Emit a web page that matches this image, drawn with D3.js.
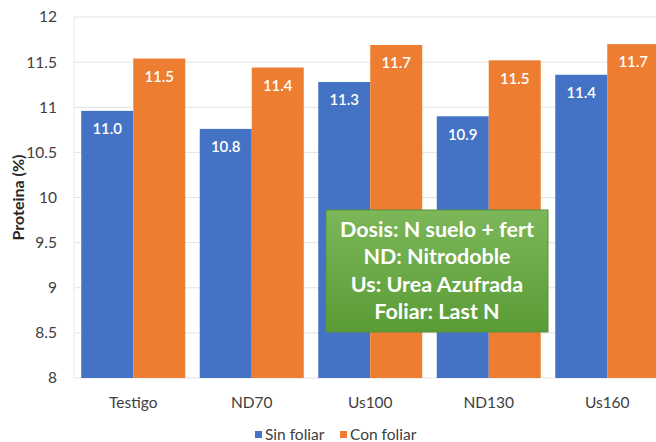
<!DOCTYPE html>
<html>
<head>
<meta charset="utf-8">
<script src="https://cdn.jsdelivr.net/npm/d3@7"></script>
<style>
  body { margin: 0; background: #fff; }
  svg { display: block; font-family: Lato, "Open Sans", sans-serif; }
</style>
</head>
<body>
<div id="chart"></div>
<script>
var categories = ["Testigo", "ND70", "Us100", "ND130", "Us160"];
var sinFoliar = [10.96, 10.76, 11.28, 10.90, 11.36];
var conFoliar = [11.54, 11.44, 11.69, 11.52, 11.70];
var seriesNames = ["Sin foliar", "Con foliar"];
var yTicks = [8, 8.5, 9, 9.5, 10, 10.5, 11, 11.5, 12];
var noteLines = ["Dosis: N suelo + fert", "ND: Nitrodoble", "Us: Urea Azufrada", "Foliar: Last N"];

var colors = ["#4472C4", "#ED7D31"];

var svg = d3.select("#chart").append("svg")
    .attr("width", 656).attr("height", 442),
    margin = {top: 17, left: 74},
    width = 592.5,
    height = 361,
    g = svg.append("g").attr("transform", "translate(" + margin.left + "," + margin.top + ")");

var x0 = d3.scaleBand().domain(categories).range([0, width]).paddingInner(0.1224).paddingOuter(0.0612);
var x1 = d3.scaleBand().domain([0, 1]).range([0, x0.bandwidth()]);
var y = d3.scaleLinear().domain([8, 12]).range([height, 0]);

// gridlines
g.selectAll(".grid").data(yTicks).enter().append("line")
    .attr("x1", 0).attr("x2", width)
    .attr("y1", function(d) { return y(d); }).attr("y2", function(d) { return y(d); })
    .style("stroke", "#e3e3e3").style("stroke-width", 1);

g.append("line").attr("x1", 0).attr("x2", 0).attr("y1", 0).attr("y2", height)
    .style("stroke", "#e8e8e8");

// y tick labels
var yAxis = g.append("g").call(d3.axisLeft(y).tickValues(yTicks).tickSize(0).tickPadding(17)
    .tickFormat(function(d) { return d3.format("")(d); }));
yAxis.select(".domain").remove();
yAxis.selectAll("text").style("font-size", "15.5px").style("fill", "#404040")
    .style("font-family", "Lato, sans-serif");

// bars
var groups = g.selectAll(".grp").data(categories).enter().append("g")
    .attr("transform", function(d) { return "translate(" + x0(d) + ",0)"; });

groups.selectAll("rect").data(function(d, i) { return [sinFoliar[i], conFoliar[i]]; })
  .enter().append("rect")
    .attr("x", function(d, j) { return x1(j); })
    .attr("y", function(d) { return y(d); })
    .attr("width", x1.bandwidth())
    .attr("height", function(d) { return height - y(d); })
    .style("fill", function(d, j) { return colors[j]; });

groups.selectAll(".val").data(function(d, i) { return [sinFoliar[i], conFoliar[i]]; })
  .enter().append("text")
    .attr("x", function(d, j) { return x1(j) + x1.bandwidth() / 2; })
    .attr("y", function(d) { return y(d) + 18; })
    .attr("dy", "0.35em")
    .attr("text-anchor", "middle")
    .style("fill", "#fff").style("font-size", "15px").style("font-weight", "600")
    .text(function(d) { return d.toFixed(1); });

// x labels
g.selectAll(".xl").data(categories).enter().append("text")
    .attr("x", function(d) { return x0(d) + x0.bandwidth() / 2; })
    .attr("y", height + 25)
    .attr("dy", "0.35em")
    .attr("text-anchor", "middle")
    .style("font-size", "15.5px").style("fill", "#404040")
    .text(function(d) { return d; });

// y title
svg.append("text")
    .attr("transform", "translate(18," + (margin.top + height / 2) + ") rotate(-90)")
    .attr("text-anchor", "middle")
    .attr("dy", "0.35em")
    .style("font-size", "16px").style("font-weight", "bold").style("fill", "#262626")
    .text("Proteina (%)");

// legend
var legend = svg.append("g");
var legX = [255, 340];
seriesNames.forEach(function(name, i) {
  legend.append("rect").attr("x", legX[i]).attr("y", 431).attr("width", 7).attr("height", 7)
      .style("fill", colors[i]);
  legend.append("text").attr("x", legX[i] + 10).attr("y", 435).attr("dy", "0.35em")
      .style("font-size", "15.5px").style("fill", "#404040").text(name);
});

// note box
var defs = svg.append("defs");
var grad = defs.append("linearGradient").attr("id", "gr").attr("x1", 0).attr("y1", 0).attr("x2", 0).attr("y2", 1);
grad.append("stop").attr("offset", "0%").attr("stop-color", "#7cb759");
grad.append("stop").attr("offset", "100%").attr("stop-color", "#5a9c36");

svg.append("rect").attr("x", 326).attr("y", 210).attr("width", 222).attr("height", 122)
    .style("fill", "url(#gr)").style("stroke", "#5b8f3c").style("stroke-width", 1);

svg.selectAll(".note").data(noteLines).enter().append("text")
    .attr("x", 437)
    .attr("y", function(d, i) { return 229 + i * 27.6; })
    .attr("dy", "0.35em")
    .attr("text-anchor", "middle")
    .style("fill", "#fff").style("font-size", "21.5px").style("font-weight", "bold")
    .text(function(d) { return d; });
</script>
</body>
</html>
